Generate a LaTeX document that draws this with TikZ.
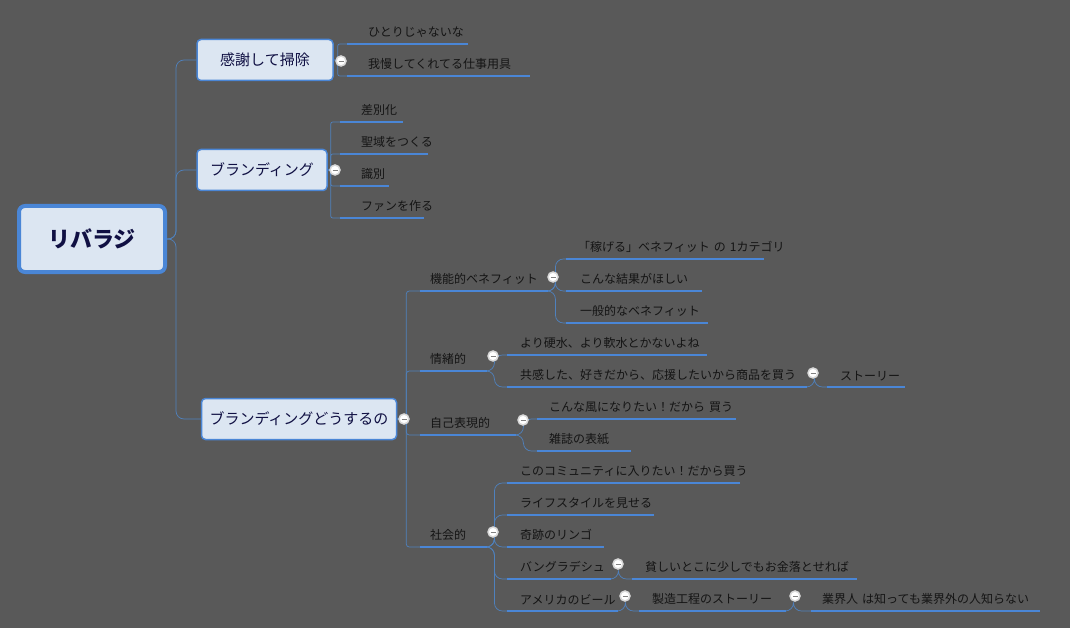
\documentclass[tikz,border=0pt]{standalone}
\usepackage{fontspec}
\setmainfont{Noto Sans CJK JP}
\usetikzlibrary{positioning}
\definecolor{bgc}{RGB}{89,89,89}
\definecolor{ulc}{RGB}{74,134,214}
\definecolor{lnc}{RGB}{79,129,189}
\definecolor{boxf}{RGB}{220,230,242}
\definecolor{txc}{RGB}{20,20,20}
\tikzset{
  leaf/.style 2 args={anchor=south west, inner xsep=0pt, inner ysep=6pt, text width=#1,
    align=left, font=\fontsize{12}{14}\selectfont, text=txc,
    execute at begin node=\hspace*{#2pt}},
  topic/.style={draw=ulc, line width=1.5pt, fill=boxf, rounded corners=4pt,
    font=\fontsize{15}{18}\selectfont, text=txc!80!blue, inner xsep=0pt},
  uline/.style={ulc, line width=2.5pt},
  link/.style={lnc, line width=0.7pt, rounded corners=8pt},
  fold/.style={circle, draw=white!70!gray, line width=1.5pt, fill=white, minimum size=10pt,
    inner sep=0pt, path picture={\draw[gray, line width=0.8pt] (-2.5pt,0) -- (2.5pt,0);}}
}
\begin{document}
\begin{tikzpicture}[x=1pt, y=-1pt]
\fill[bgc] (0,0) rectangle (1070,628);
\useasboundingbox (0,0) rectangle (1070,628);

% root and main topics
\node[topic, line width=4pt, minimum width=146pt, minimum height=66pt, rounded corners=6pt,
  font=\fontsize{22}{26}\selectfont\bfseries] (root) at (92,239) {リバラジ};
\node[topic, minimum width=136pt, minimum height=41pt] (clean) at (265,60) {感謝して掃除};
\node[topic, minimum width=130pt, minimum height=41pt] (brand) at (262,170) {ブランディング};
\node[topic, minimum width=195pt, minimum height=41pt] (how) at (299,419) {ブランディングどうするの};

\foreach \t in {clean, brand, how}
  \draw[link] (root.east) -- ++(9,0) |- (\t.west);

% leaves of the first two topics
\node[leaf={121pt}{21}] (alone) at (347,44) {ひとりじゃないな};
\node[leaf={183pt}{21}] (tools) at (347,76) {我慢してくれてる仕事用具};
\node[leaf={63pt}{21}] (diff) at (340,122) {差別化};
\node[leaf={88pt}{21}] (holy) at (340,154) {聖域をつくる};
\node[leaf={49pt}{21}] (ident) at (340,186) {識別};
\node[leaf={84pt}{21}] (fans) at (340,218) {ファンを作る};

\foreach \c in {alone, tools}
  \draw[link, rounded corners=2pt] (clean.east) -- ++(4,0) |- (\c.south west);
\foreach \c in {diff, holy, ident, fans}
  \draw[link, rounded corners=2pt] (brand.east) -- ++(3,0) |- (\c.south west);

% benefits
\node[leaf={128pt}{10}] (func) at (420,291) {機能的ベネフィット};
\node[leaf={67pt}{10}] (emo) at (420,371) {情緒的};
\node[leaf={96pt}{10}] (self) at (420,435) {自己表現的};
\node[leaf={67pt}{10}] (soc) at (420,547) {社会的};

\foreach \c in {func, emo, self, soc}
  \draw[link, rounded corners=3pt] (how.east) -- ++(9,0) |- (\c.south west);

\node[leaf={198pt}{12}] (earn) at (566,259) {\mbox{「稼げる」ベネフィット の 1カテゴリ}};
\node[leaf={136pt}{14}] (result) at (566,291) {こんな結果がほしい};
\node[leaf={142pt}{14}] (general) at (566,323) {一般的なベネフィット};
\node[leaf={200pt}{13}] (water) at (507,355) {より硬水、より軟水とかないよね};
\node[leaf={300pt}{13}] (buy) at (507,387) {\mbox{共感した、好きだから、応援したいから商品を買う}};
\node[leaf={78pt}{13}] (story) at (827,387) {ストーリー};
\node[leaf={199pt}{12}] (wish) at (537,419) {\mbox{こんな風になりたい！だから 買う}};
\node[leaf={94pt}{12}] (cover) at (537,451) {雑誌の表紙};
\node[leaf={233pt}{13}] (comm) at (507,483) {\mbox{このコミュニティに入りたい！だから買う}};
\node[leaf={147pt}{13}] (life) at (507,515) {ライフスタイルを見せる};
\node[leaf={97pt}{13}] (apple) at (507,547) {奇跡のリンゴ};
\node[leaf={104pt}{13}] (bang) at (507,579) {バングラデシュ};
\node[leaf={225pt}{13}] (poor) at (632,579) {\mbox{貧しいとこに少しでもお金落とせれば}};
\node[leaf={111pt}{13}] (beer) at (507,611) {\mbox{アメリカのビール}};
\node[leaf={147pt}{13}] (make) at (639,611) {製造工程のストーリー};
\node[leaf={229pt}{11}] (insider) at (811,611) {\mbox{業界人 は知っても業界外の人知らない}};

\foreach \p/\c in {func/earn, func/result, func/general, emo/water, emo/buy, buy/story,
  self/wish, self/cover, soc/comm, soc/life, soc/apple, soc/bang, soc/beer,
  bang/poor, beer/make, make/insider}
  \draw[link] (\p.south east) -- ++(7,0) |- (\c.south west);

\foreach \n in {alone, tools, diff, holy, ident, fans, func, emo, self, soc, earn, result,
  general, water, buy, story, wish, cover, comm, life, apple, bang, poor, beer, make, insider}
  \draw[uline] (\n.south west) -- (\n.south east);

% fold markers
\foreach \x/\y in {341/61, 335/170, 404/419, 553/277, 493/356, 813/373, 523/420,
  493/532, 618/564, 625/596, 795/596}
  \node[fold] at (\x,\y) {};
\end{tikzpicture}
\end{document}
